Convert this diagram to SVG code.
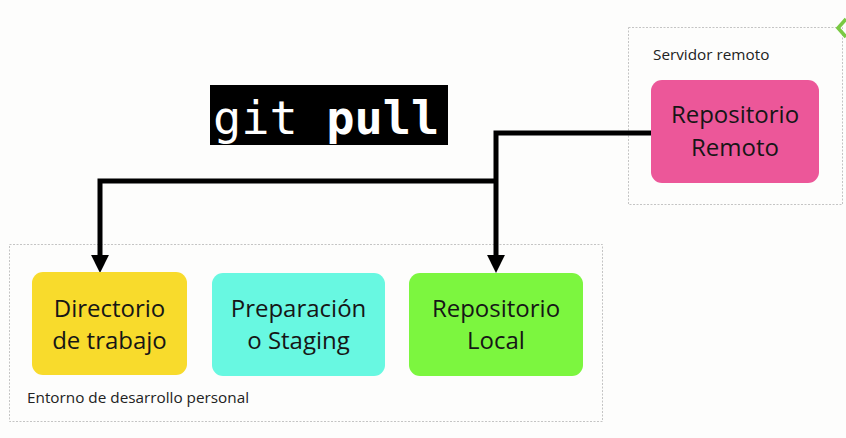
<svg xmlns="http://www.w3.org/2000/svg" width="846" height="438" viewBox="0 0 846 438">
  <defs>
    <style>
      .frame { fill: none; stroke: #c4c4c4; stroke-width: 1; stroke-dasharray: 2 1.5; }
      .node-label { font-family: "Open Sans", "Noto Sans", sans-serif; font-size: 24px; fill: #161616; text-anchor: middle; }
      .frame-label { font-family: "Open Sans", "Noto Sans", sans-serif; font-size: 15.3px; fill: #222; }
      .wire { fill: none; stroke: #000; stroke-width: 5; stroke-linejoin: miter; }
      .cmd { font-family: "DejaVu Sans Mono", "Liberation Mono", monospace; font-size: 47px; fill: #fff; }
    </style>
    <marker id="arrow" markerUnits="userSpaceOnUse" markerWidth="18" markerHeight="18" viewBox="0 0 17 17" refX="2" refY="8.5" orient="auto">
      <path d="M0,0 L17,8.5 L0,17 z" fill="#000"/>
    </marker>
  </defs>

  <rect width="846" height="438" fill="#fdfdfc"/>

  <g id="entorno-frame">
    <rect class="frame" x="9.5" y="244.5" width="593" height="177"/>
    <text class="frame-label" x="27" y="403">Entorno de desarrollo personal</text>
  </g>

  <g id="servidor-frame">
    <rect class="frame" x="628.5" y="27.5" width="214" height="177"/>
    <text class="frame-label" x="653" y="60">Servidor remoto</text>
    <path d="M846,19 L838,28 L846,37" fill="none" stroke="#7ac943" stroke-width="3.5"/>
  </g>

  <g id="git-pull">
    <rect x="210" y="85" width="238" height="60" fill="#000"/>
    <text class="cmd" x="213" y="134">git <tspan font-weight="bold">pull</tspan></text>
  </g>

  <g id="connectors">
    <path class="wire" d="M651,133 H496 V257" marker-end="url(#arrow)"/>
    <path class="wire" d="M498,181 H100 V257" marker-end="url(#arrow)"/>
  </g>

  <g id="repositorio-remoto">
    <rect x="651" y="80" width="168" height="103" rx="11" fill="#ec5799"/>
    <text class="node-label" x="735" y="123">Repositorio</text>
    <text class="node-label" x="735" y="156">Remoto</text>
  </g>

  <g id="directorio-trabajo">
    <rect x="32" y="272" width="155" height="103" rx="11" fill="#f8db2c"/>
    <text class="node-label" x="109.5" y="317">Directorio</text>
    <text class="node-label" x="109.5" y="349">de trabajo</text>
  </g>

  <g id="preparacion-staging">
    <rect x="212" y="273" width="173" height="103" rx="11" fill="#68f8e1"/>
    <text class="node-label" x="298.5" y="317">Preparación</text>
    <text class="node-label" x="298.5" y="349">o Staging</text>
  </g>

  <g id="repositorio-local">
    <rect x="409" y="273" width="174" height="103" rx="11" fill="#7cf63f"/>
    <text class="node-label" x="496" y="317">Repositorio</text>
    <text class="node-label" x="496" y="349">Local</text>
  </g>
</svg>
